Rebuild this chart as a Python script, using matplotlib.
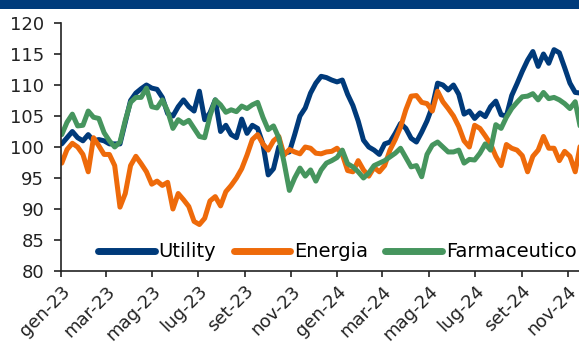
import matplotlib
matplotlib.use("Agg")
import matplotlib.pyplot as plt
from matplotlib.patches import Rectangle
import pandas as pd

# Weekly index levels (base 100), first week of 2023 to mid-November 2024
start_date = "2023-01-02"
n_weeks = 99

utility = [
    100.5, 101.5, 102.5, 101.5, 101.0, 102.0, 101.0, 101.2, 101.0, 100.5,
    100.5, 100.5, 104.0, 107.5, 108.7, 109.4, 110.0, 109.5, 109.3, 108.0,
    105.4, 105.0, 106.5, 107.6, 106.5, 105.8, 109.0, 104.4, 105.5, 107.6,
    102.5, 103.5, 102.0, 101.5, 104.5, 102.2, 103.5, 103.0, 100.5, 95.5,
    96.5, 100.0, 99.0, 99.2, 102.0, 105.0, 106.3, 108.7, 110.3, 111.4,
    111.2, 110.8, 110.5, 110.8, 108.5, 106.7, 104.2, 101.1, 100.0, 99.5,
    98.8, 100.5, 100.8, 102.2, 103.8, 103.0, 101.4, 100.8, 102.4, 104.2,
    106.5, 110.3, 110.0, 109.2, 110.0, 108.5, 105.3, 105.8, 104.6, 105.5,
    104.9, 106.5, 107.4, 105.2, 105.0, 108.3, 110.2, 112.2, 114.0, 115.4,
    113.0, 115.0, 113.5, 115.7, 115.2, 112.8, 110.3, 108.8, 108.7,
]

energia = [
    97.4, 99.6, 100.6, 100.0, 98.8, 96.0, 101.5, 100.2, 98.8, 98.8,
    97.0, 90.3, 92.5, 97.0, 98.5, 97.3, 96.0, 94.0, 94.5, 93.8,
    94.3, 90.0, 92.5, 91.5, 90.4, 88.0, 87.5, 88.5, 91.3, 92.0,
    90.5, 92.8, 93.8, 95.0, 96.5, 98.7, 101.2, 102.0, 100.5, 99.5,
    101.0, 101.7, 98.7, 99.6, 99.2, 98.9, 100.0, 99.8, 99.0, 98.9,
    99.2, 99.3, 99.8, 98.8, 96.2, 96.0, 97.8, 96.3, 95.3, 96.7,
    96.0, 97.0, 99.5, 101.2, 103.2, 106.0, 108.2, 108.3, 107.2, 107.0,
    105.8, 109.0, 107.3, 106.2, 105.0, 103.3, 101.0, 100.0, 103.5, 103.0,
    101.8, 100.5, 98.5, 97.0, 100.4, 99.8, 99.5, 98.6, 96.0, 98.5,
    99.5, 101.7, 99.8, 99.8, 97.8, 99.3, 98.5, 96.0, 100.5,
]

farmaceutico = [
    102.0, 104.0, 105.3, 103.4, 103.5, 105.8, 104.8, 104.6, 102.3, 101.0,
    100.0, 100.8, 104.3, 107.2, 108.0, 108.0, 109.5, 106.5, 106.3, 107.6,
    105.8, 103.0, 104.4, 103.8, 104.3, 103.0, 101.7, 101.5, 105.0, 107.6,
    106.8, 105.6, 106.0, 105.7, 106.6, 106.2, 106.8, 107.2, 104.8, 102.8,
    103.4, 101.5, 97.5, 93.0, 95.0, 96.6, 95.3, 96.3, 94.5, 96.3,
    97.4, 97.8, 98.3, 99.5, 97.3, 96.8, 96.0, 95.0, 95.8, 97.0,
    97.4, 97.8, 98.4, 99.0, 99.8, 98.3, 96.8, 97.0, 95.2, 98.8,
    100.3, 100.8, 100.0, 99.2, 99.2, 99.5, 97.4, 98.0, 97.9, 99.0,
    100.5, 99.5, 103.6, 103.0, 104.8, 106.2, 107.2, 108.1, 108.2, 108.6,
    107.6, 108.8, 107.8, 108.0, 107.6, 107.0, 106.2, 107.3, 103.0,
]

series_names = ["Utility", "Energia", "Farmaceutico"]
series_colors = ["#003A7A", "#EE6A0A", "#46955E"]

tick_dates = pd.date_range("2023-01-01", "2024-11-01", freq="2MS")
tick_labels = ["gen-23", "mar-23", "mag-23", "lug-23", "set-23", "nov-23",
               "gen-24", "mar-24", "mag-24", "lug-24", "set-24", "nov-24"]
y_ticks = [80, 85, 90, 95, 100, 105, 110, 115, 120]

dates = pd.date_range(start_date, periods=n_weeks, freq="7D")

plt.rcParams["font.family"] = ["DejaVu Sans"]
W, H = 579, 351
fig = plt.figure(figsize=(W / 100, H / 100), dpi=100)

# header band
fig.patches.append(Rectangle((0, 1 - 9 / H), 1, 9 / H, transform=fig.transFigure,
                             facecolor="#003B7B", edgecolor="none", zorder=0))

ax = fig.add_axes([61 / W, 1 - 271 / H, (W - 61) / W, (271 - 23) / H])

for vals, name, col in zip([utility, energia, farmaceutico], series_names, series_colors):
    ax.plot(dates, vals, color=col, lw=3.6, label=name, solid_joinstyle="round",
            solid_capstyle="round")

ax.set_ylim(80, 120)
ax.set_yticks(y_ticks)
ax.set_xlim(pd.Timestamp("2023-01-01"), pd.Timestamp("2024-11-16"))
ax.set_xticks(tick_dates)
ax.set_xticklabels(tick_labels, rotation=45, ha="right", rotation_mode="anchor")

for s in ["top", "right"]:
    ax.spines[s].set_visible(False)
for s in ["left", "bottom"]:
    ax.spines[s].set_color("#222222")
    ax.spines[s].set_linewidth(1.2)

ax.tick_params(axis="y", direction="out", length=5, width=1.2, pad=7,
               labelsize=13, colors="#222222")
ax.tick_params(axis="x", direction="out", length=4, width=1.2, pad=4,
               labelsize=13, colors="#222222")

leg = ax.legend(loc="center right", bbox_to_anchor=(0.995, 0.077), ncol=3, frameon=False,
                fontsize=14, handlelength=2.9, handletextpad=0.2, columnspacing=0.9,
                borderaxespad=0, borderpad=0)
for line in leg.get_lines():
    line.set_linewidth(5)

fig.savefig("out.png", dpi=100)
